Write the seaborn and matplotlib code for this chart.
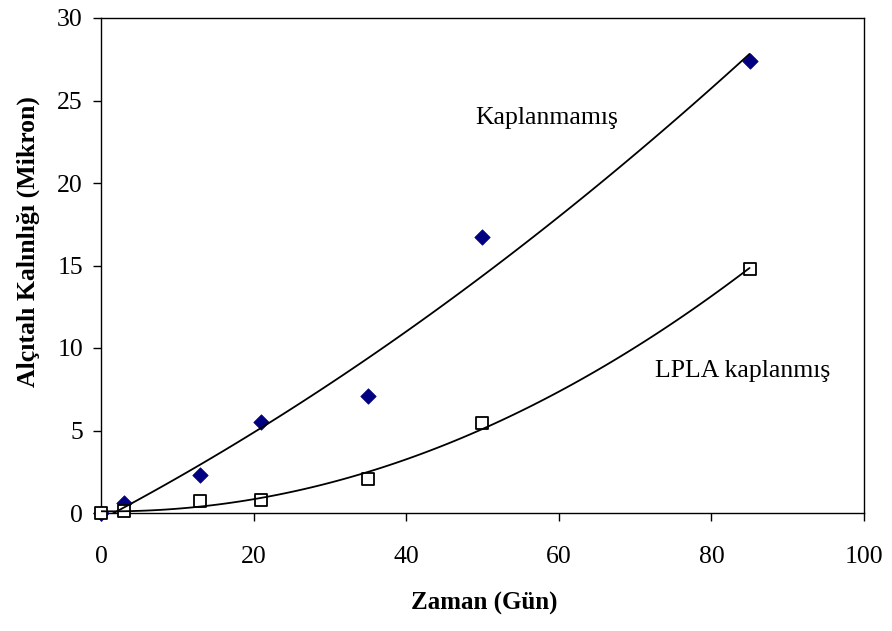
import matplotlib
matplotlib.use("Agg")
import matplotlib.pyplot as plt
import seaborn as sns
import pandas as pd

# Data
days = [0, 3, 13, 21, 35, 50, 85]
uncoated = [0.0, 0.6, 2.3, 5.5, 7.1, 16.7, 27.4]
lpla_coated = [0.0, 0.15, 0.7, 0.8, 2.05, 5.45, 14.8]

x_ticks = [0, 20, 40, 60, 80, 100]
y_ticks = [0, 5, 10, 15, 20, 25, 30]
label_uncoated = "Kaplanmamış"
label_coated = "LPLA kaplanmış"
x_label = "Zaman (Gün)"
y_label = "Alçıtalı Kalınlığı (Mikron)"

df_u = pd.DataFrame({"x": days, "y": uncoated})
df_c = pd.DataFrame({"x": days, "y": lpla_coated})

sns.set_style("ticks")
plt.rcParams["font.family"] = ["Liberation Serif", "DejaVu Serif"]
plt.rcParams["text.color"] = "black"
plt.rcParams["axes.labelcolor"] = "black"

fig = plt.figure(figsize=(8.92, 6.31), dpi=100)
ax = fig.add_axes([101 / 892, 1 - 513 / 631, 763 / 892, 495 / 631])

# markers
sns.scatterplot(data=df_u, x="x", y="y", marker="D", s=62, color="#000080",
                edgecolor="#000080", linewidth=0.5, ax=ax, zorder=3, clip_on=False)
sns.scatterplot(data=df_c, x="x", y="y", marker="s", s=66, color="white",
                edgecolor="black", linewidth=1.3, ax=ax, zorder=4, clip_on=False)

# polynomial trend lines (order 2)
sns.regplot(data=df_u, x="x", y="y", order=2, ci=None, scatter=False, truncate=True,
            line_kws={"color": "black", "lw": 1.3, "zorder": 5}, ax=ax)
sns.regplot(data=df_c, x="x", y="y", order=2, ci=None, scatter=False, truncate=True,
            line_kws={"color": "black", "lw": 1.3, "zorder": 5}, ax=ax)

ax.set_xlim(0, 100)
ax.set_ylim(0, 30)
ax.set_xticks(x_ticks)
ax.set_yticks(y_ticks)
ax.set_xticklabels([str(v) for v in x_ticks])
ax.set_yticklabels([str(v) for v in y_ticks])

for side in ["left", "bottom", "top", "right"]:
    ax.spines[side].set_visible(True)
    ax.spines[side].set_color("black")
    ax.spines[side].set_linewidth(1.0)

ax.tick_params(axis="both", direction="out", length=6, width=1.0, colors="black",
               labelsize=18.5, top=False, right=False)
ax.tick_params(axis="y", pad=7)
ax.tick_params(axis="x", pad=18)

ax.set_xlabel(x_label, fontsize=18, fontweight="bold", color="black")
ax.set_ylabel(y_label, fontsize=18.5, fontweight="bold", va="center", color="black")
ax.xaxis.set_label_coords(0.5 + 2 / 763, (513 - 592) / 495)
ax.yaxis.set_label_coords((28 - 101) / 763, (513 - 242) / 495)

ax.text(49.0, 23.6, label_uncoated, fontsize=18.5, ha="left", va="baseline", color="black")
ax.text(72.6, 8.26, label_coated, fontsize=18.5, ha="left", va="baseline", color="black")

fig.savefig("out.png", dpi=100)
